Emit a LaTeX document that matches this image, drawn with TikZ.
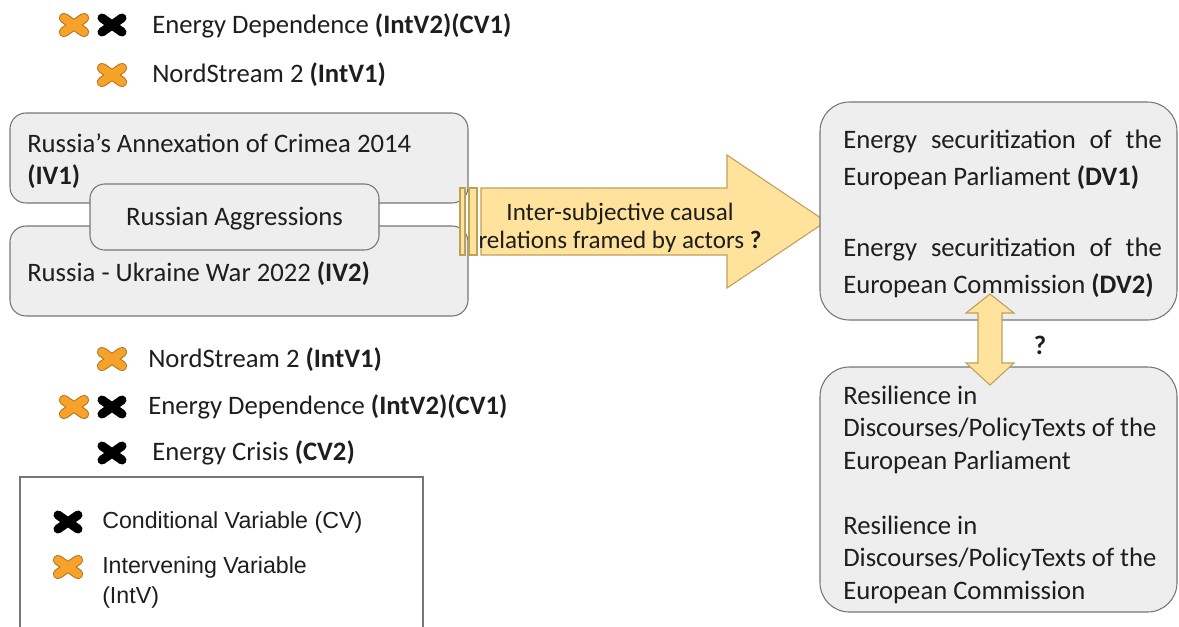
\documentclass[tikz,border=0pt]{standalone}
\usepackage{fontspec}
\setmainfont{Carlito}
\newfontfamily\keyfont{Liberation Sans}
\usetikzlibrary{positioning}
\definecolor{boxgray}{RGB}{238,238,238}
\definecolor{edgegray}{RGB}{118,118,118}
\definecolor{arrowfill}{RGB}{255,226,155}
\definecolor{arrowedge}{RGB}{190,160,90}
\definecolor{xorange}{RGB}{247,162,40}
\definecolor{xedge}{RGB}{176,112,30}
\definecolor{txt}{RGB}{30,30,30}
\newcommand{\fixsp}{\spaceskip=\fontdimen2\font\relax}

\begin{document}
\begin{tikzpicture}[x=0.75pt,y=-0.75pt,
 box/.style={draw=edgegray,fill=boxgray,rounded corners=12pt,line width=0.8pt},
 intxt/.style={anchor=west,inner sep=0pt,text=txt,align=left,font=\fontsize{20}{24}\selectfont\fixsp},
 lbl/.style={anchor=west,inner sep=0pt,text=txt,font=\fontsize{20}{24}\selectfont},
 key/.style={anchor=west,inner sep=0pt,text=txt,align=left,font=\keyfont\fontsize{17.4}{22.5}\selectfont\fixsp},
 yel/.style={draw=arrowedge,fill=arrowfill,line width=0.8pt},
 pics/cvx/.style={code={\draw[line width=6.75pt,line cap=round,black] (-10,-7)--(10,7) (-10,7)--(10,-7);}},
 pics/ivx/.style={code={\draw[line width=7.75pt,line cap=round,xedge] (-10,-7)--(10,7) (-10,7)--(10,-7);
   \draw[line width=6.25pt,line cap=round,xorange] (-10,-7)--(10,7) (-10,7)--(10,-7);}}]
\useasboundingbox (0,0) rectangle (1179,626);

% variables above
\pic at (74,25) {ivx};
\pic at (112,25) {cvx};
\node[lbl] (dep1) at (152,26) {Energy Dependence \textbf{(IntV2)(CV1)}};
\pic at (112,75) {ivx};
\node[lbl] (ns1) at (152,75) {NordStream 2 \textbf{(IntV1)}};

% independent variables
\node[box,minimum width=343.5pt,minimum height=67.5pt] (iv1) at (239,158) {};
\node[intxt] (iv1t) at (27,161) {Russia’s Annexation of Crimea 2014\\\textbf{(IV1)}};
\node[box,minimum width=343.5pt,minimum height=67.5pt] (iv2) at (239,271) {};
\node[intxt] (iv2t) at (27,274) {Russia - Ukraine War 2022 \textbf{(IV2)}};
\node[box,rounded corners=11pt,minimum width=216.75pt,minimum height=49.5pt] (agg) at (234.5,217) {};
\node[intxt,anchor=center] (aggt) at (234.5,219) {Russian Aggressions};

% striped arrow
\draw[yel] (460,188) rectangle (465,255);
\draw[yel] (469,188) rectangle (477,255);
\draw[yel] (481,188) -- (727,188) -- (727,155) -- (826,221.5) -- (727,288) -- (727,255) -- (481,255) -- cycle;
\node[align=center,text=txt,font=\fontsize{18.8}{21}\selectfont] (rel) at (620,227.5) {Inter-subjective causal\\relations framed by actors \textbf{?}};

% dependent variables
\node[box,rounded corners=22pt,minimum width=267.75pt,minimum height=163.5pt] (dv) at (998.5,211) {};
\node[intxt,font=\fontsize{20}{27.75}\selectfont\fixsp] (dvt) at (843,213.5)
 {\makebox[239pt][l]{Energy\hfill securitization\hfill of\hfill the}\\European Parliament \textbf{(DV1)}\\[25.5pt]\makebox[239pt][l]{Energy\hfill securitization\hfill of\hfill the}\\European Commission \textbf{(DV2)}};
\node[box,rounded corners=22pt,minimum width=267.75pt,minimum height=183.75pt] (res) at (998.5,489.5) {};
\node[intxt,font=\fontsize{20}{24.4}\selectfont\fixsp] (rest) at (843,494.5)
 {Resilience in\\Discourses/PolicyTexts of the\\European Parliament\\[24.4pt]Resilience in\\Discourses/PolicyTexts of the\\European Commission};
\draw[yel] (990,294) -- (1014,313) -- (1002,313) -- (1002,363) -- (1014,363) -- (990,385) -- (966,363) -- (978,363) -- (978,313) -- (966,313) -- cycle;
\node[text=txt,font=\fontsize{20}{24}\selectfont\bfseries] (q) at (1040,345) {?};

% variables below
\pic at (112,359) {ivx};
\node[lbl] (ns2) at (148,360) {NordStream 2 \textbf{(IntV1)}};
\pic at (74,407) {ivx};
\pic at (112,407) {cvx};
\node[lbl] (dep2) at (148,407) {Energy Dependence \textbf{(IntV2)(CV1)}};
\pic at (112,453) {cvx};
\node[lbl] (cri) at (152,453) {Energy Crisis \textbf{(CV2)}};

% legend
\draw[edgegray,line width=0.8pt] (20,640) -- (20,477) -- (423,477) -- (423,640);
\pic at (68,522) {cvx};
\node[key] (kcv) at (102,522) {Conditional Variable (CV)};
\pic at (68,567) {ivx};
\node[key,anchor=north west] (kiv) at (102,556) {Intervening Variable\\(IntV)};
\end{tikzpicture}
\end{document}
